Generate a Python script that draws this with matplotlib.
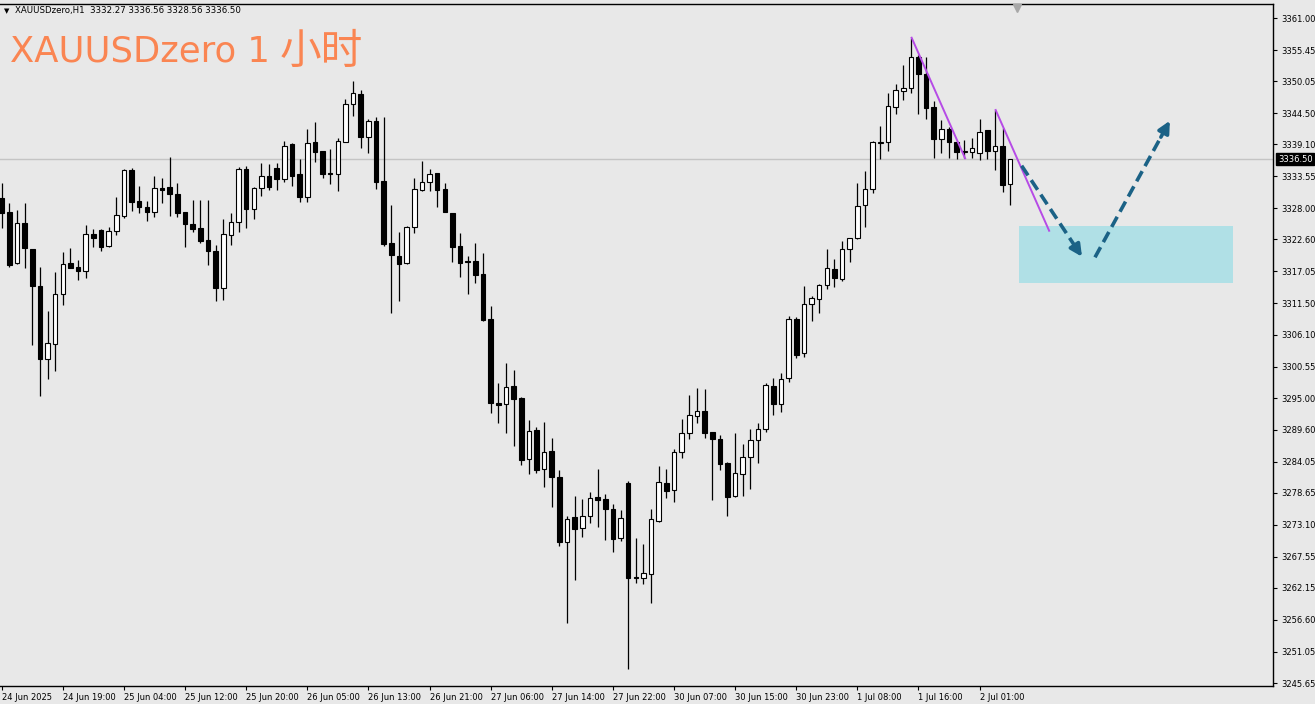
import numpy as np
import matplotlib.pyplot as plt
from matplotlib.patches import Rectangle
from matplotlib.transforms import blended_transform_factory

# ---- XAUUSDzero H1 bars ----
opens = [3329.72, 3327.30, 3318.45, 3325.49, 3320.88, 3314.51, 3301.79, 3304.45, 3313.07, 3318.45,
         3317.86, 3317.11, 3323.48, 3324.22, 3321.45, 3324.05, 3326.65, 3334.63, 3329.25, 3328.27,
         3327.40, 3331.46, 3331.74, 3330.47, 3327.30, 3325.26, 3324.52, 3322.49, 3320.63, 3314.11,
         3323.36, 3325.66, 3334.75, 3327.87, 3331.46, 3333.59, 3335.03, 3333.02, 3339.09, 3333.88,
         3330.00, 3339.54, 3337.93, 3333.99, 3333.88, 3339.54, 3346.03, 3347.81, 3340.30, 3343.19,
         3332.72, 3321.92, 3319.77, 3318.45, 3324.69, 3331.16, 3332.50, 3334.06, 3331.28, 3327.12,
         3321.45, 3318.67, 3318.85, 3316.54, 3308.79, 3294.27, 3294.00, 3297.22, 3295.03, 3284.45,
         3289.53, 3282.71, 3285.94, 3281.43, 3270.05, 3274.39, 3272.59, 3274.62, 3277.86, 3277.51,
         3275.78, 3270.75, 3280.29, 3263.98, 3263.81, 3264.50, 3273.80, 3280.29, 3279.12, 3285.77,
         3288.96, 3292.01, 3292.88, 3289.13, 3287.92, 3283.76, 3278.08, 3281.90, 3284.90, 3287.80,
         3289.65, 3297.22, 3294.04, 3298.50, 3308.73, 3302.94, 3311.34, 3312.26, 3314.69, 3317.41,
         3315.67, 3320.93, 3322.78, 3328.56, 3331.34, 3339.31, 3339.43, 3345.61, 3348.39, 3348.91,
         3354.29, 3351.28, 3345.51, 3339.96, 3341.69, 3339.43, 3337.81, 3337.70, 3337.53, 3341.57,
         3337.98, 3338.85, 3332.27]
highs = [3332.32, 3328.85, 3327.69, 3328.85, 3321.00, 3317.86, 3310.23, 3317.00, 3320.36, 3321.16,
         3319.02, 3325.09, 3324.35, 3324.35, 3324.80, 3329.90, 3334.75, 3335.03, 3331.91, 3329.25,
         3333.59, 3333.19, 3336.94, 3332.32, 3327.40, 3329.43, 3329.43, 3329.43, 3321.62, 3326.13,
         3327.23, 3335.21, 3335.33, 3331.74, 3335.90, 3335.62, 3335.90, 3339.71, 3339.26, 3336.54,
         3341.69, 3343.01, 3338.00, 3338.27, 3340.23, 3346.95, 3350.07, 3348.51, 3343.43, 3343.77,
         3343.77, 3328.56, 3323.82, 3324.85, 3333.19, 3336.25, 3334.75, 3334.16, 3332.32, 3327.20,
         3323.65, 3319.77, 3321.92, 3320.29, 3311.04, 3297.63, 3301.10, 3299.94, 3295.20, 3291.27,
         3290.00, 3290.97, 3288.10, 3282.59, 3274.67, 3278.08, 3277.51, 3278.72, 3282.77, 3278.43,
         3276.64, 3275.65, 3280.69, 3270.85, 3269.76, 3275.83, 3283.29, 3282.77, 3286.24, 3291.39,
         3295.60, 3296.76, 3296.59, 3289.20, 3288.66, 3283.90, 3288.96, 3287.05, 3289.65, 3290.69,
         3297.63, 3298.50, 3299.47, 3309.31, 3309.08, 3314.51, 3312.78, 3314.86, 3320.93, 3319.14,
         3322.37, 3322.85, 3332.32, 3334.46, 3339.66, 3342.26, 3348.04, 3349.50, 3352.85, 3357.58,
         3354.58, 3354.18, 3346.60, 3343.30, 3342.14, 3339.66, 3339.83, 3340.13, 3343.48, 3341.62,
         3345.04, 3341.86, 3336.56]
lows = [3324.52, 3317.86, 3318.30, 3317.68, 3304.28, 3295.43, 3298.38, 3299.77, 3311.21, 3317.60,
        3315.55, 3315.85, 3321.33, 3320.63, 3321.33, 3323.36, 3326.25, 3327.52, 3327.12, 3325.79,
        3326.53, 3328.85, 3326.70, 3326.43, 3321.33, 3323.93, 3321.92, 3318.15, 3311.96, 3312.08,
        3321.62, 3323.93, 3324.52, 3326.13, 3330.17, 3331.16, 3331.16, 3332.50, 3331.91, 3329.13,
        3329.03, 3336.07, 3333.19, 3332.15, 3331.00, 3339.49, 3344.05, 3338.50, 3337.63, 3331.34,
        3321.50, 3309.88, 3311.91, 3318.40, 3323.65, 3331.04, 3331.04, 3328.16, 3327.35, 3318.72,
        3316.02, 3313.12, 3314.98, 3308.49, 3292.53, 3290.80, 3289.06, 3286.81, 3283.46, 3281.90,
        3282.12, 3279.70, 3276.12, 3269.41, 3256.00, 3263.52, 3271.03, 3273.35, 3272.76, 3270.45,
        3268.42, 3270.33, 3248.08, 3262.94, 3262.82, 3259.57, 3273.62, 3277.68, 3277.09, 3284.62,
        3287.92, 3290.69, 3288.19, 3277.39, 3282.59, 3274.62, 3278.00, 3278.08, 3279.25, 3283.76,
        3289.24, 3292.13, 3292.71, 3297.91, 3301.97, 3302.14, 3308.49, 3309.77, 3313.94, 3314.29,
        3315.43, 3318.72, 3322.70, 3324.80, 3330.59, 3336.54, 3337.93, 3344.29, 3346.77, 3348.04,
        3344.29, 3343.43, 3336.76, 3337.53, 3336.76, 3336.54, 3336.65, 3336.65, 3336.42, 3336.54,
        3334.58, 3330.87, 3328.56]
closes = [3327.12, 3318.15, 3325.49, 3321.05, 3314.56, 3301.79, 3304.57, 3313.12, 3318.28, 3317.68,
          3317.11, 3323.48, 3322.89, 3321.33, 3324.05, 3326.83, 3334.63, 3329.13, 3328.27, 3327.40,
          3331.46, 3331.16, 3330.42, 3327.23, 3325.21, 3324.35, 3322.37, 3320.58, 3314.11, 3323.48,
          3325.56, 3334.75, 3327.87, 3331.46, 3333.59, 3331.63, 3333.02, 3338.85, 3333.64, 3330.00,
          3339.37, 3337.81, 3333.88, 3333.94, 3339.71, 3346.03, 3347.94, 3340.30, 3343.13, 3332.60,
          3321.79, 3319.89, 3318.28, 3324.80, 3331.28, 3332.50, 3333.94, 3331.16, 3327.40, 3321.33,
          3318.55, 3318.62, 3316.42, 3308.61, 3294.16, 3293.87, 3297.04, 3294.86, 3284.33, 3289.41,
          3282.59, 3285.77, 3281.43, 3270.05, 3274.04, 3272.36, 3274.67, 3277.68, 3277.39, 3275.78,
          3270.63, 3274.21, 3263.81, 3263.86, 3264.67, 3274.04, 3280.46, 3279.00, 3285.77, 3288.96,
          3292.13, 3292.88, 3289.06, 3287.92, 3283.64, 3277.96, 3282.12, 3284.80, 3287.80, 3289.65,
          3297.34, 3294.04, 3298.33, 3308.73, 3302.54, 3311.34, 3312.48, 3314.69, 3317.58, 3315.95,
          3320.93, 3322.78, 3328.39, 3331.34, 3339.43, 3339.43, 3345.73, 3348.51, 3348.80, 3354.29,
          3351.23, 3345.44, 3339.96, 3341.69, 3339.43, 3337.81, 3337.88, 3338.50, 3341.27, 3337.98,
          3338.85, 3332.03, 3336.50]

x_tick_pos = list(range(0, 129, 8))
x_tick_labels = ["24 Jun 2025", "24 Jun 19:00", "25 Jun 04:00", "25 Jun 12:00", "25 Jun 20:00",
                 "26 Jun 05:00", "26 Jun 13:00", "26 Jun 21:00", "27 Jun 06:00", "27 Jun 14:00",
                 "27 Jun 22:00", "30 Jun 07:00", "30 Jun 15:00", "30 Jun 23:00", "1 Jul 08:00",
                 "1 Jul 16:00", "2 Jul 01:00"]
y_ticks = [3361.00, 3355.45, 3350.05, 3344.50, 3339.10, 3333.55, 3328.00, 3322.60, 3317.05,
           3311.50, 3306.10, 3300.55, 3295.00, 3289.60, 3284.05, 3278.65, 3273.10, 3267.55,
           3262.15, 3256.60, 3251.05, 3245.65]

# drawn objects (bar index, price)
trend1_x, trend1_y = [119.1, 126.1], [3357.58, 3336.66]
trend2_x, trend2_y = [130.1, 137.1], [3345.04, 3324.10]
zone_x, zone_y = [133.1, 161.1], [3315.09, 3324.97]
arrow_down = [(133.5, 3335.38), (141.4, 3319.59)]
arrow_up = [(143.1, 3319.49), (152.9, 3343.18)]

bg = '#E8E8E8'
fig = plt.figure(figsize=(13.15, 7.04), dpi=100, facecolor=bg)
ax = fig.add_axes([0, 18 / 704, 1273 / 1315, 682 / 704])
ax.set_facecolor(bg)

idx = np.arange(len(opens))
o = np.array(opens); c = np.array(closes)
up = c >= o
body_lo = np.minimum(o, c)
body_h = np.maximum(np.abs(c - o), 0.15)

ax.vlines(idx, lows, highs, color='black', lw=0.9, zorder=2)
ax.bar(idx[up], body_h[up], bottom=body_lo[up], width=0.6, facecolor='white',
       edgecolor='black', lw=0.8, zorder=3)
ax.bar(idx[~up], body_h[~up], bottom=body_lo[~up], width=0.6, facecolor='black',
       edgecolor='black', lw=0.8, zorder=3)

# current price line
ax.axhline(closes[-1], color='#C4C4C4', lw=1, zorder=1)

# analysis drawings
ax.add_patch(Rectangle((zone_x[0], zone_y[0]), zone_x[1] - zone_x[0], zone_y[1] - zone_y[0],
                       facecolor='#B0E0E6', edgecolor='none', zorder=1))
purple = '#B64BE6'
ax.plot(trend1_x, trend1_y, color=purple, lw=1.4, zorder=4)
ax.plot(trend2_x, trend2_y, color=purple, lw=1.4, zorder=4)

teal = '#1B6286'
for (x0, y0), (x1, y1) in (arrow_down, arrow_up):
    xm = x0 + 0.88 * (x1 - x0)
    ym = y0 + 0.88 * (y1 - y0)
    ax.plot([x0, xm], [y0, ym], color=teal, lw=2.6, dashes=(3.2, 1.6), zorder=5)
    ax.annotate('', xy=(x1, y1), xytext=(xm, ym),
                arrowprops=dict(arrowstyle='-|>,head_length=0.7,head_width=0.35',
                                color=teal, lw=2.6, shrinkA=0, shrinkB=0), zorder=5)

ax.set_xlim(-0.22, 166.4)
ax.set_ylim(3245.13, 3363.43)

# axes styling like MT4
ax.spines['left'].set_visible(False)
for s in ('right', 'bottom', 'top'):
    ax.spines[s].set_color('black')
    ax.spines[s].set_linewidth(1)
ax.yaxis.tick_right()
ax.set_yticks(y_ticks)
ax.set_yticklabels([f"{v:.2f}" for v in y_ticks])
ax.tick_params(axis='y', direction='out', length=3, labelsize=6, pad=3, colors='black')
ax.set_xticks(x_tick_pos)
ax.set_xticklabels(x_tick_labels, ha='left')
ax.tick_params(axis='x', direction='out', length=3, labelsize=6, pad=2, colors='black')

trans = blended_transform_factory(ax.transAxes, ax.transData)
ax.text(1.004, closes[-1], f"{closes[-1]:.2f}", transform=trans, color='white', fontsize=6,
        va='center', ha='left', bbox=dict(facecolor='black', edgecolor='black', pad=1.2),
        zorder=6)

# chart shift marker at the top edge
ax.plot([0.799], [0.994], marker='v', markersize=6, color='#A8A8A8',
        transform=ax.transAxes, clip_on=False, zorder=6)

# header texts
fig.text(4 / 1315, 1 - 11 / 704, "▼", fontsize=5, va='center', color='black')
fig.text(15 / 1315, 1 - 11 / 704, "XAUUSDzero,H1  3332.27 3336.56 3328.56 3336.50",
         fontsize=6.2, va='center', color='black')
orange = '#FA8552'
fig.text(10 / 1315, 1 - 61 / 704, "XAUUSDzero 1", fontsize=25.5, color=orange,
         va='baseline', family=['DejaVu Sans'])
fig.text(280 / 1315, 1 - 64 / 704, "小时", fontsize=30, color=orange, fontweight='light',
         va='baseline', family=['Noto Sans CJK SC', 'DejaVu Sans'])

fig.savefig('out.png', dpi=100, facecolor=bg)
